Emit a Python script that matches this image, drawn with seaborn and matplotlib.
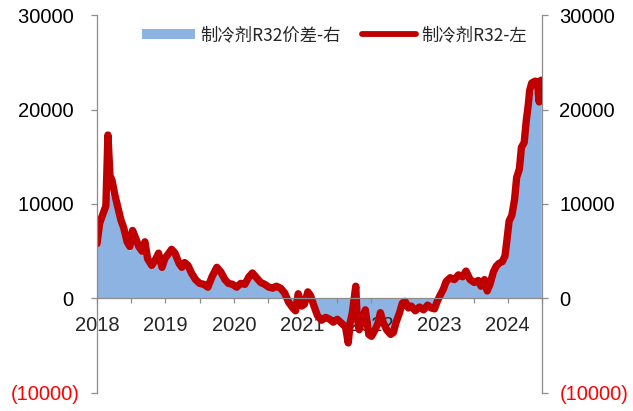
import pandas as pd
import seaborn as sns
import matplotlib.pyplot as plt
from matplotlib.patches import Patch
from matplotlib.lines import Line2D

# fractional years
years = [
    2018.00, 2018.04, 2018.09, 2018.13, 2018.16, 2018.19, 2018.22, 2018.26, 2018.31, 2018.35,
    2018.39, 2018.44, 2018.48, 2018.52, 2018.57, 2018.61, 2018.66, 2018.70, 2018.74, 2018.80,
    2018.86, 2018.90, 2018.95, 2018.99, 2019.03, 2019.09, 2019.14, 2019.20, 2019.24, 2019.28,
    2019.33, 2019.38, 2019.44, 2019.50, 2019.56, 2019.62, 2019.68, 2019.75, 2019.81, 2019.87,
    2019.92, 2019.98, 2020.04, 2020.10, 2020.16, 2020.22, 2020.27, 2020.33, 2020.39, 2020.45,
    2020.51, 2020.57, 2020.62, 2020.68, 2020.74, 2020.80, 2020.86, 2020.90, 2020.94, 2020.99,
    2021.03, 2021.08, 2021.12, 2021.17, 2021.22, 2021.28, 2021.34, 2021.40, 2021.45, 2021.51,
    2021.57, 2021.63, 2021.67, 2021.70, 2021.73, 2021.78, 2021.80, 2021.83, 2021.88, 2021.92,
    2021.97, 2022.01, 2022.07, 2022.11, 2022.14, 2022.18, 2022.23, 2022.29, 2022.33, 2022.37,
    2022.42, 2022.46, 2022.50, 2022.55, 2022.59, 2022.65, 2022.71, 2022.77, 2022.83, 2022.88,
    2022.93, 2022.97, 2023.01, 2023.06, 2023.10, 2023.16, 2023.22, 2023.28, 2023.34, 2023.39,
    2023.45, 2023.51, 2023.57, 2023.61, 2023.66, 2023.70, 2023.74, 2023.79, 2023.83, 2023.87,
    2023.92, 2023.96, 2023.99, 2024.02, 2024.06, 2024.10, 2024.13, 2024.17, 2024.20, 2024.24,
    2024.27, 2024.30, 2024.32, 2024.35, 2024.40, 2024.43, 2024.46, 2024.47, 2024.49,
]

# 制冷剂R32 (left axis)
r32_price = [
    5800, 8000, 9000, 9800, 17300, 13000, 12500, 11000, 9500, 8300,
    7500, 6000, 5500, 7200, 6300, 5500, 5000, 6000, 4200, 3500,
    4200, 4800, 3300, 4200, 4600, 5200, 4800, 3700, 3300, 3800,
    3500, 2700, 2000, 1600, 1500, 1200, 2300, 3300, 2800, 2000,
    1600, 1500, 1200, 1600, 1500, 2300, 2700, 2200, 1700, 1500,
    1200, 1100, 1300, 1100, 600, -400, -1000, -1300, 500, -800,
    -600, 700, 300, -800, -1800, -2300, -2000, -2200, -2500, -2200,
    -2600, -3000, -4700, -2500, -1500, 1300, -2000, -3300, -2000, -1200,
    -3800, -4000, -3200, -2500, -1500, -2500, -3300, -3800, -3600, -2500,
    -1500, -500, -300, -1000, -800, -1300, -900, -1200, -700, -1000,
    -1100, -300, 300, 1000, 1800, 2200, 2000, 2500, 2300, 2900,
    2000, 1700, 1900, 1300, 2000, 800, 1500, 2800, 3400, 3700,
    3900, 4500, 6300, 8200, 8800, 10500, 12800, 13700, 16000, 16500,
    18800, 20500, 22000, 22800, 23000, 22900, 20800, 23000, 23100,
]

# 制冷剂R32价差 (right axis)
r32_spread = [
    5500, 7500, 8500, 9000, 11200, 11000, 10500, 9800, 8800, 7600,
    6800, 5500, 5000, 6500, 5800, 5000, 4600, 5400, 3800, 3100,
    3800, 4300, 3000, 3800, 4200, 4700, 4300, 3300, 3000, 3400,
    3100, 2400, 1700, 1400, 1300, 1000, 2000, 3000, 2500, 1700,
    1400, 1300, 1000, 1400, 1300, 2000, 2400, 1900, 1500, 1300,
    1000, 900, 1100, 900, 400, -500, -1000, -1200, 300, -700,
    -500, 500, 200, -700, -1600, -2000, -1800, -2000, -2200, -2000,
    -2300, -2600, -3000, -2200, -1400, -500, -1800, -2800, -1800, -1100,
    -3000, -3200, -2800, -2200, -1400, -2200, -2900, -3300, -3200, -2200,
    -1300, -500, -300, -900, -700, -1100, -800, -1000, -600, -900,
    -1000, -300, 200, 800, 1500, 1900, 1800, 2200, 2000, 2500,
    1800, 1500, 1600, 1100, 1700, 600, 1300, 2500, 3000, 3300,
    3500, 4000, 5700, 7500, 8200, 9800, 12000, 13000, 15000, 15800,
    18000, 19500, 21000, 21800, 22000, 22000, 20500, 21500, 21500,
]

xtick_years = [2018, 2019, 2020, 2021, 2022, 2023, 2024]
half_years = [2018.5, 2019.5, 2020.5, 2021.5, 2022.5, 2023.5, 2024.5]
ytick_vals = [-10000, 0, 10000, 20000, 30000]
ytick_labels = ['(10000)', '0', '10000', '20000', '30000']

sns.set_theme(style='white')
plt.rcParams['font.family'] = ['Liberation Sans', 'Noto Sans CJK SC']

blue = '#8DB3E2'
red = '#C00000'
grey = '#8C8C8C'

df = pd.DataFrame({'year': years, 'price': r32_price, 'spread': r32_spread})

fig = plt.figure(figsize=(6.33, 4.11), dpi=100)
ax = fig.add_axes([0.1532, 0.0438, 0.7030, 0.9197])
ax2 = ax.twinx()

ax2.fill_between(df['year'], 0, df['spread'], color=blue, linewidth=0)
sns.lineplot(data=df, x='year', y='price', ax=ax, color=red, linewidth=5.3,
             solid_capstyle='round', solid_joinstyle='round')
ax.set_zorder(ax2.get_zorder() + 1)
ax.patch.set_visible(False)

for a in (ax, ax2):
    a.set_xlim(2018, 2024.5)
    a.set_ylim(-10000, 30000)
    a.set_xlabel('')
    a.set_ylabel('')
    for s in a.spines.values():
        s.set_visible(False)
        s.set_color(grey)
        s.set_linewidth(0.9)

ax.spines['left'].set_visible(True)
ax.spines['bottom'].set_visible(True)
ax.spines['bottom'].set_position(('data', 0))
ax2.spines['right'].set_visible(True)

ax.set_xticks(xtick_years, [str(y) for y in xtick_years])
ax.set_xticks(half_years, minor=True)
ax.tick_params(axis='x', which='both', bottom=True, direction='out', length=3.5,
               width=0.9, color=grey, pad=9, labelsize=14.5)

left_labels = [l if l.startswith('(') else l + ' ' for l in ytick_labels]
ax.set_yticks(ytick_vals, left_labels)
ax.tick_params(axis='y', left=True, direction='out', length=4.5, width=0.9,
               color=grey, pad=8, labelsize=14.5)
ax2.set_yticks(ytick_vals, ytick_labels)
ax2.tick_params(axis='y', right=True, direction='out', length=4.5, width=0.9,
                color=grey, pad=8, labelsize=14.5)
for a in (ax, ax2):
    for lbl in a.get_yticklabels():
        lbl.set_color('#FF0000' if lbl.get_text().startswith('(') else 'black')

handles = [
    Patch(facecolor=blue, edgecolor='none', label='制冷剂R32价差-右'),
    Line2D([], [], color=red, lw=4.2, solid_capstyle='round', label='制冷剂R32-左'),
]
fig.legend(handles=handles, loc='center', bbox_to_anchor=(0.528, 0.915), ncol=2,
           frameon=False, prop={'family': ['Noto Sans CJK SC'], 'size': 12.5},
           handlelength=3.1, handleheight=0.55, handletextpad=0.3, columnspacing=1.2)

fig.savefig('out.png', dpi=100)
